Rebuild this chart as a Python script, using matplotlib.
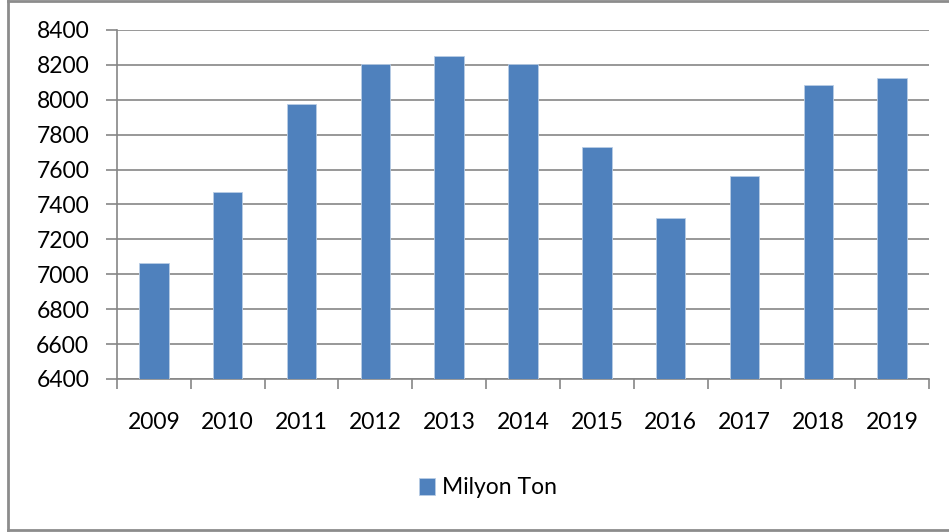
import matplotlib
matplotlib.use("Agg")
import matplotlib.pyplot as plt
from matplotlib.lines import Line2D
import numpy as np

years = ["2009", "2010", "2011", "2012", "2013", "2014",
         "2015", "2016", "2017", "2018", "2019"]
milyon_ton = [7062, 7473, 7974, 8206, 8252, 8206, 7731, 7324, 7562, 8087, 8127]
y_ticks = [6400, 6600, 6800, 7000, 7200, 7400, 7600, 7800, 8000, 8200, 8400]

plt.rcParams["font.family"] = ["Lato", "DejaVu Sans"]
W, H = 949, 532
fig = plt.figure(figsize=(W / 100, H / 100), dpi=100)
ax = fig.add_axes([117 / W, 1 - 379 / H, (929 - 117) / W, (379 - 30) / H])

grid_c = "#868686"
fs = 16.5
x = np.arange(len(years))
ax.bar(x, milyon_ton, width=0.40, color="#4F81BD", edgecolor="#B9CDE5",
       linewidth=0.6, label="Milyon Ton", zorder=3)
ax.set_ylim(6400, 8400)
ax.set_xlim(-0.5, len(years) - 0.5)
ax.set_yticks(y_ticks)
ax.set_yticklabels([str(v) for v in y_ticks], fontsize=fs)
ax.grid(axis="y", color=grid_c, linewidth=1.2, zorder=0)
ax.set_axisbelow(True)

# category boundary ticks on x axis, labels centred on bars
ax.set_xticks(np.arange(len(years) + 1) - 0.5)
ax.set_xticklabels([])
ax.set_xticks(x, minor=True)
ax.set_xticklabels(years, minor=True, fontsize=fs)
ax.tick_params(axis="x", which="major", length=7, width=1.2, color=grid_c, direction="out")
ax.tick_params(axis="x", which="minor", length=0, pad=24)
ax.tick_params(axis="y", length=8, width=1.2, color=grid_c, pad=12)

for s in ["top", "right"]:
    ax.spines[s].set_visible(False)
for s in ["left", "bottom"]:
    ax.spines[s].set_color(grid_c)
    ax.spines[s].set_linewidth(1.2)

fig.legend(loc="center", bbox_to_anchor=(488 / W, 1 - 488 / H), frameon=False,
           fontsize=fs, handlelength=0.7, handleheight=0.7, handletextpad=0.3)

# outer frame (left, top, bottom edges)
fc = "#8C8C8C"
fig.add_artist(Line2D([8 / W, 8 / W], [1 - 1 / H, 1 - 530 / H], transform=fig.transFigure,
                      color=fc, linewidth=2))
fig.add_artist(Line2D([8 / W, 1], [1 - 1 / H, 1 - 1 / H], transform=fig.transFigure,
                      color=fc, linewidth=2))
fig.add_artist(Line2D([8 / W, 1], [1 - 530 / H, 1 - 530 / H], transform=fig.transFigure,
                      color=fc, linewidth=2))

fig.savefig("out.png", dpi=100)
